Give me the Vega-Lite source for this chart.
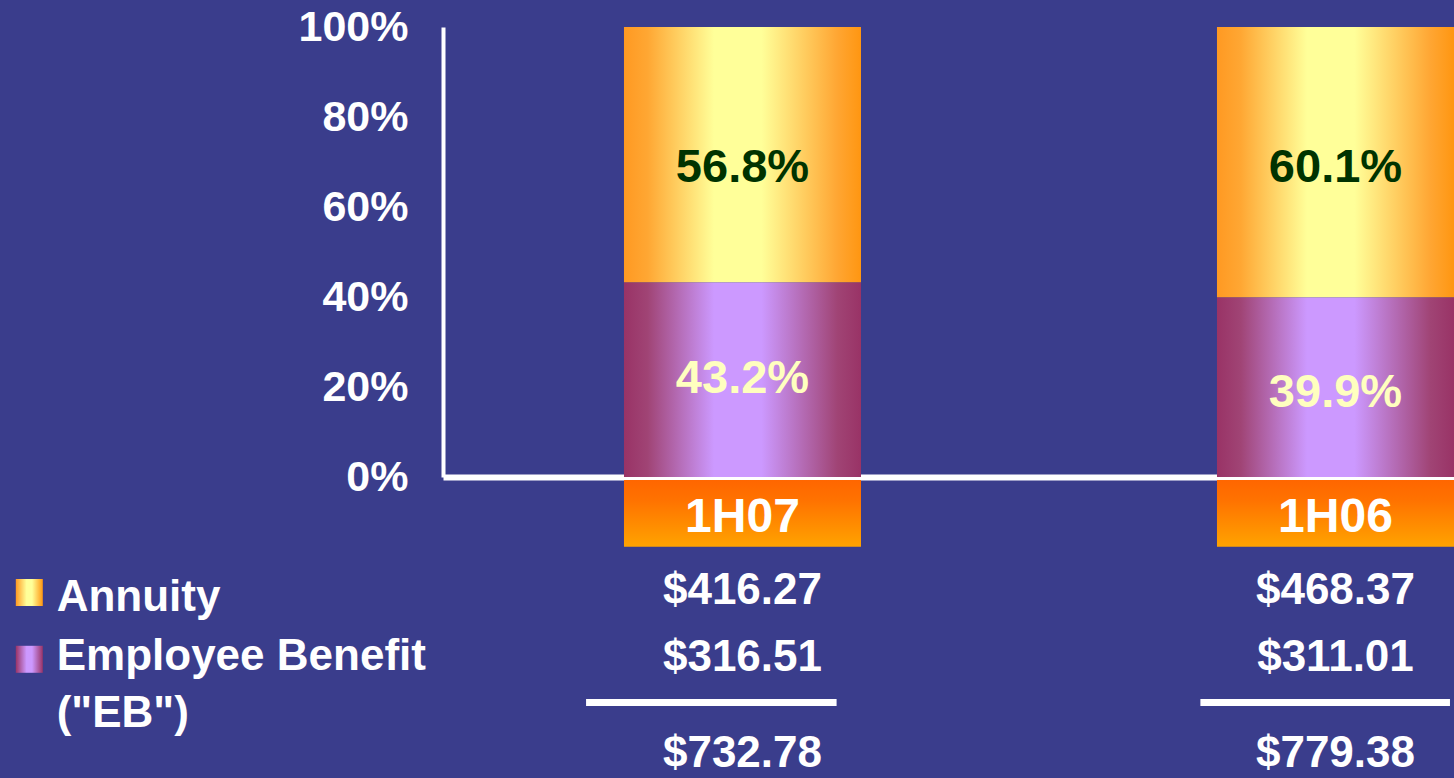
{
  "$schema": "https://vega.github.io/schema/vega-lite/v6.json",
  "width": 1011,
  "height": 450,
  "autosize": {"type": "none"},
  "padding": {"left": 443, "top": 27, "right": 0, "bottom": 301},
  "background": "#3A3D8C",
  "config": {
    "view": {"stroke": null},
    "font": "Liberation Sans",
    "axis": {"grid": false}
  },
  "datasets": {
    "shares": [
      {"period": "1H07", "series": "Annuity", "share": 0.568},
      {"period": "1H07", "series": "Employee Benefit", "share": 0.432},
      {"period": "1H06", "series": "Annuity", "share": 0.601},
      {"period": "1H06", "series": "Employee Benefit", "share": 0.399}
    ],
    "amounts": [
      {"period": "1H07", "row": "Annuity", "amount": 416.27},
      {"period": "1H07", "row": "Employee Benefit", "amount": 316.51},
      {"period": "1H07", "row": "Total", "amount": 732.78},
      {"period": "1H06", "row": "Annuity", "amount": 468.37},
      {"period": "1H06", "row": "Employee Benefit", "amount": 311.01},
      {"period": "1H06", "row": "Total", "amount": 779.38}
    ],
    "periods": [{"period": "1H07"}, {"period": "1H06"}],
    "legend": [
      {"series": "Annuity", "label": "Annuity"},
      {"series": "Employee Benefit", "label": "Employee Benefit\n(\"EB\")"}
    ]
  },
  "layer": [
    {
      "layer": [
        {
          "data": {"name": "shares"},
          "transform": [
            {"stack": "share", "groupby": ["period"], "sort": [{"field": "series", "order": "descending"}], "as": ["y0", "y1"]}
          ],
          "layer": [
            {
              "transform": [{"filter": {"field": "series", "equal": "Annuity"}}],
              "mark": {
                "type": "bar",
                "strokeWidth": 0,
                "fill": {
                  "gradient": "linear", "x1": 0, "y1": 0, "x2": 1, "y2": 0,
                  "stops": [
                    {"offset": 0, "color": "#FF9922"},
                    {"offset": 0.1, "color": "#FFA733"},
                    {"offset": 0.38, "color": "#FFFF99"},
                    {"offset": 0.58, "color": "#FFFF99"},
                    {"offset": 0.9, "color": "#FFA633"},
                    {"offset": 1, "color": "#FF9611"}
                  ]
                }
              },
              "encoding": {
                "x": {
                  "field": "period", "type": "nominal",
                  "scale": {"domain": ["1H07", "1H06"], "paddingInner": 0.6003, "paddingOuter": 0.1526, "align": 1},
                  "axis": {"labels": false, "ticks": false, "title": null, "domainColor": "#FFFFFF", "domainWidth": 6}
                },
                "y": {
                  "field": "y0", "type": "quantitative",
                  "scale": {"domain": [0, 1], "nice": false, "zero": false},
                  "axis": {
                    "values": [0, 0.2, 0.4, 0.6, 0.8, 1], "format": ".0%", "title": null,
                    "ticks": false, "grid": false, "domainColor": "#FFFFFF", "domainWidth": 4,
                    "labelColor": "#FFFFFF", "labelFontSize": 43, "labelFontWeight": "bold",
                    "labelFont": "Liberation Sans", "labelPadding": 35, "labelFlush": false, "labelOverlap": false
                  }
                },
                "y2": {"field": "y1"}
              }
            },
            {
              "transform": [{"filter": {"field": "series", "equal": "Employee Benefit"}}],
              "mark": {
                "type": "bar",
                "strokeWidth": 0,
                "fill": {
                  "gradient": "linear", "x1": 0, "y1": 0, "x2": 1, "y2": 0,
                  "stops": [
                    {"offset": 0, "color": "#993366"},
                    {"offset": 0.1, "color": "#A04475"},
                    {"offset": 0.38, "color": "#CC99FF"},
                    {"offset": 0.58, "color": "#CC99FF"},
                    {"offset": 0.9, "color": "#A04475"},
                    {"offset": 1, "color": "#993366"}
                  ]
                }
              },
              "encoding": {
                "x": {"field": "period", "type": "nominal"},
                "y": {"field": "y0", "type": "quantitative"},
                "y2": {"field": "y1"}
              }
            },
            {
              "transform": [{"filter": {"field": "series", "equal": "Annuity"}}],
              "mark": {"type": "text", "baseline": "alphabetic", "align": "center", "dy": 155, "fontSize": 47, "fontWeight": "bold", "color": "#003300"},
              "encoding": {
                "x": {"field": "period", "type": "nominal"},
                "y": {"field": "y1", "type": "quantitative"},
                "text": {"field": "share", "type": "quantitative", "format": ".1%"}
              }
            },
            {
              "transform": [{"filter": {"field": "series", "equal": "Employee Benefit"}}],
              "mark": {"type": "text", "baseline": "alphabetic", "align": "center", "dy": 110, "fontSize": 47, "fontWeight": "bold", "color": "#FFFFBF"},
              "encoding": {
                "x": {"field": "period", "type": "nominal"},
                "y": {"field": "y1", "type": "quantitative"},
                "text": {"field": "share", "type": "quantitative", "format": ".1%"}
              }
            }
          ]
        },
        {
          "data": {"name": "periods"},
          "layer": [
            {
              "mark": {
                "type": "bar",
                "strokeWidth": 0,
                "fill": {
                  "gradient": "linear", "x1": 0, "y1": 0, "x2": 0, "y2": 1,
                  "stops": [
                    {"offset": 0, "color": "#FF6600"},
                    {"offset": 0.3, "color": "#FF7200"},
                    {"offset": 1, "color": "#FFA300"}
                  ]
                }
              },
              "encoding": {
                "x": {"field": "period", "type": "nominal"},
                "y": {"datum": -0.0067},
                "y2": {"datum": -0.1549}
              }
            },
            {
              "mark": {"type": "text", "baseline": "alphabetic", "align": "center", "fontSize": 48, "fontWeight": "bold", "color": "#FFFFFF"},
              "encoding": {
                "x": {"field": "period", "type": "nominal"},
                "y": {"datum": -0.1216},
                "text": {"field": "period", "type": "nominal"}
              }
            }
          ]
        },
        {
          "data": {"name": "amounts"},
          "layer": [
            {
              "transform": [{"filter": {"field": "row", "equal": "Annuity"}}],
              "mark": {"type": "text", "baseline": "alphabetic", "align": "center", "fontSize": 44, "fontWeight": "bold", "color": "#FFFFFF"},
              "encoding": {
                "x": {"field": "period", "type": "nominal"},
                "y": {"datum": -0.2822},
                "text": {"field": "amount", "type": "quantitative", "format": "$.2f"}
              }
            },
            {
              "transform": [{"filter": {"field": "row", "equal": "Employee Benefit"}}],
              "mark": {"type": "text", "baseline": "alphabetic", "align": "center", "fontSize": 44, "fontWeight": "bold", "color": "#FFFFFF"},
              "encoding": {
                "x": {"field": "period", "type": "nominal"},
                "y": {"datum": -0.4311},
                "text": {"field": "amount", "type": "quantitative", "format": "$.2f"}
              }
            },
            {
              "transform": [{"filter": {"field": "row", "equal": "Total"}}],
              "mark": {"type": "text", "baseline": "alphabetic", "align": "center", "fontSize": 44, "fontWeight": "bold", "color": "#FFFFFF"},
              "encoding": {
                "x": {"field": "period", "type": "nominal"},
                "y": {"datum": -0.6444},
                "text": {"field": "amount", "type": "quantitative", "format": "$.2f"}
              }
            },
            {
              "transform": [{"filter": {"and": [{"field": "row", "equal": "Total"}, {"field": "period", "equal": "1H07"}]}}],
              "mark": {"type": "rule", "color": "#FFFFFF", "strokeWidth": 7, "strokeCap": "butt"},
              "encoding": {
                "x": {"field": "period", "type": "nominal", "bandPosition": -0.16},
                "x2": {"field": "period", "bandPosition": 0.897},
                "y": {"datum": -0.5011}
              }
            },
            {
              "transform": [{"filter": {"and": [{"field": "row", "equal": "Total"}, {"field": "period", "equal": "1H06"}]}}],
              "mark": {"type": "rule", "color": "#FFFFFF", "strokeWidth": 7, "strokeCap": "butt"},
              "encoding": {
                "x": {"field": "period", "type": "nominal", "bandPosition": -0.07},
                "x2": {"field": "period", "bandPosition": 0.983},
                "y": {"datum": -0.5011}
              }
            }
          ]
        }
      ]
    },
    {
      "data": {"name": "legend"},
      "layer": [
        {
          "transform": [{"filter": {"field": "series", "equal": "Annuity"}}],
          "mark": {
            "type": "point", "shape": "square", "filled": true, "size": 729, "opacity": 1, "strokeWidth": 0,
            "fill": {
              "gradient": "linear", "x1": 0, "y1": 0, "x2": 1, "y2": 0,
              "stops": [
                {"offset": 0, "color": "#FF9922"},
                {"offset": 0.4, "color": "#FFFF99"},
                {"offset": 0.6, "color": "#FFFF99"},
                {"offset": 1, "color": "#FF9611"}
              ]
            }
          },
          "encoding": {
            "x": {"datum": 0, "type": "quantitative", "scale": {"domain": [0, 1], "range": [-413.7, -386.3]}, "axis": null},
            "y": {"datum": -0.2567}
          }
        },
        {
          "transform": [{"filter": {"field": "series", "equal": "Employee Benefit"}}],
          "mark": {
            "type": "point", "shape": "square", "filled": true, "size": 729, "opacity": 1, "strokeWidth": 0,
            "fill": {
              "gradient": "linear", "x1": 0, "y1": 0, "x2": 1, "y2": 0,
              "stops": [
                {"offset": 0, "color": "#993366"},
                {"offset": 0.4, "color": "#CC99FF"},
                {"offset": 0.6, "color": "#CC99FF"},
                {"offset": 1, "color": "#993366"}
              ]
            }
          },
          "encoding": {
            "x": {"datum": 0, "type": "quantitative"},
            "y": {"datum": -0.4051}
          }
        },
        {
          "transform": [{"filter": {"field": "series", "equal": "Annuity"}}],
          "mark": {"type": "text", "align": "left", "baseline": "alphabetic", "fontSize": 44, "fontWeight": "bold", "color": "#FFFFFF"},
          "encoding": {
            "x": {"datum": 1, "type": "quantitative"},
            "y": {"datum": -0.2971},
            "text": {"field": "label", "type": "nominal"}
          }
        },
        {
          "transform": [{"filter": {"field": "series", "equal": "Employee Benefit"}}],
          "mark": {"type": "text", "align": "left", "baseline": "alphabetic", "fontSize": 44, "fontWeight": "bold", "color": "#FFFFFF", "lineBreak": "\n", "lineHeight": 56.7},
          "encoding": {
            "x": {"datum": 1, "type": "quantitative"},
            "y": {"datum": -0.4289},
            "text": {"field": "label", "type": "nominal"}
          }
        }
      ]
    }
  ],
  "resolve": {"scale": {"x": "independent"}}
}
